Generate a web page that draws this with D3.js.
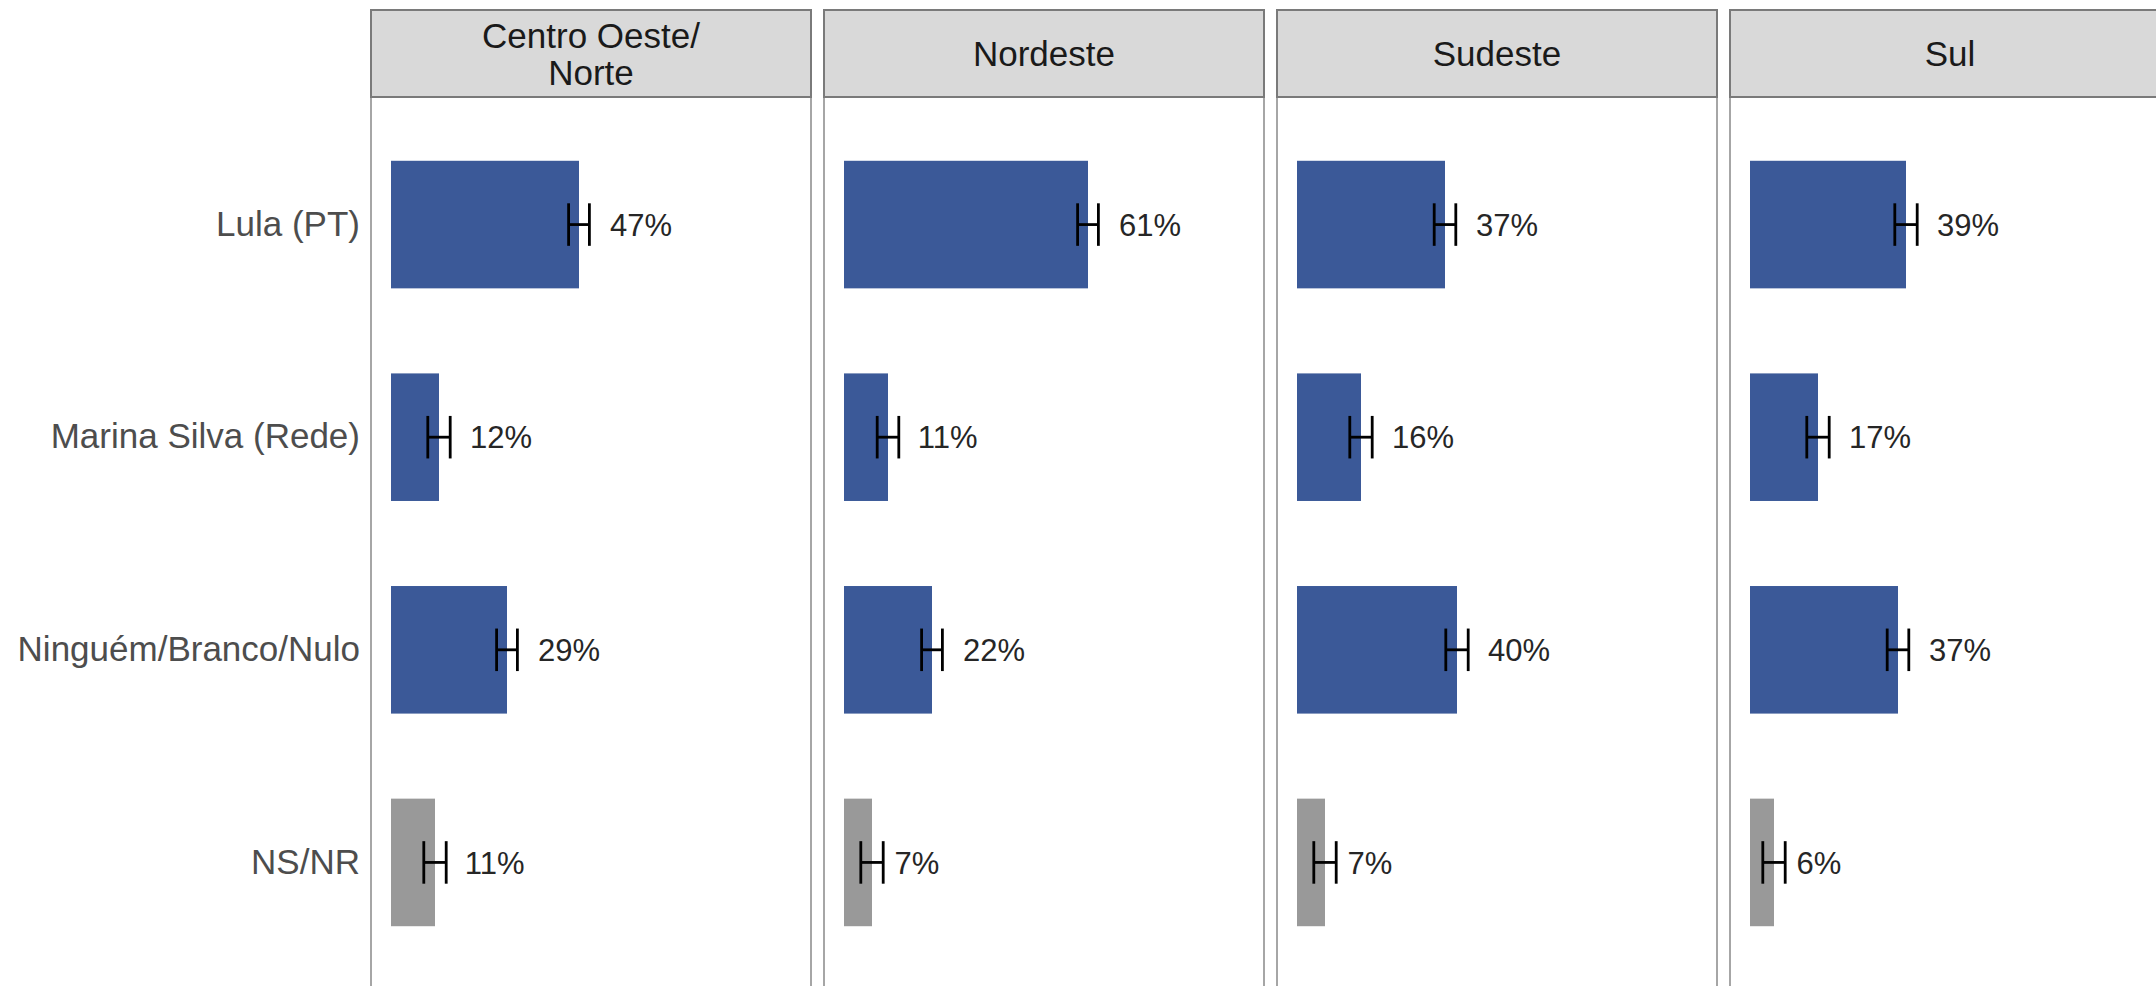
<!DOCTYPE html>
<html>
<head>
<meta charset="utf-8">
<script src="https://cdn.jsdelivr.net/npm/d3@7"></script>
<style>
  html, body { margin: 0; padding: 0; background: #ffffff; }
  svg { display: block; }
</style>
</head>
<body>
<svg id="chart" width="2156" height="986"></svg>
<script>
// ---- data ----
const regions = ["Centro Oeste/\nNorte", "Nordeste", "Sudeste", "Sul"];
const categories = ["Lula (PT)", "Marina Silva (Rede)", "Ninguém/Branco/Nulo", "NS/NR"];
const valuesCentroOesteNorte = [47, 12, 29, 11];
const valuesNordeste = [61, 11, 22, 7];
const valuesSudeste = [37, 16, 40, 7];
const valuesSul = [39, 17, 37, 6];
const marginCentroOesteNorte = [2.6, 2.8, 2.6, 2.8];
const marginNordeste = [2.6, 2.7, 2.6, 2.8];
const marginSudeste = [2.7, 2.8, 2.8, 2.8];
const marginSul = [2.8, 2.8, 2.7, 2.8];
const neutralCategory = "NS/NR";

const seriesValues = [valuesCentroOesteNorte, valuesNordeste, valuesSudeste, valuesSul];
const seriesMargins = [marginCentroOesteNorte, marginNordeste, marginSudeste, marginSul];

// ---- layout ----
const svg = d3.select("#chart");
const FONT = "'Liberation Sans', Arial, sans-serif";
const stripTop = 10, stripBottom = 97, panelBottom = 990;

const facetX = d3.scaleBand()
  .domain(regions)
  .range([371, 2170])
  .paddingInner(0.0287)
  .paddingOuter(0);
const pw = facetX.bandwidth();

const x = d3.scaleLinear().domain([-5, 105]).range([0, pw]);
const y = d3.scaleBand()
  .domain(categories)
  .range([stripBottom, panelBottom])
  .paddingInner(0.4)
  .paddingOuter(0.3);
const step = y.step();

const colorMain = "#3b5998", colorNeutral = "#999999";

// y axis labels (no ticks / no domain line)
const yAxis = d3.axisLeft(y).tickSize(0).tickPadding(11);
const yg = svg.append("g").attr("transform", `translate(${facetX(regions[0])},0)`).call(yAxis);
yg.select(".domain").remove();
yg.selectAll("text")
  .attr("font-family", FONT)
  .attr("font-size", 35)
  .attr("fill", "#4d4d4d");

regions.forEach((region, ri) => {
  const px = facetX(region);
  const g = svg.append("g").attr("transform", `translate(${px},0)`);
  const rows = categories.map((c, i) => ({
    cat: c, value: seriesValues[ri][i], moe: seriesMargins[ri][i]
  }));

  // panel background + border
  g.append("rect")
    .attr("x", 0).attr("y", stripBottom)
    .attr("width", pw).attr("height", panelBottom - stripBottom)
    .attr("fill", "#ffffff")
    .attr("stroke", "#a6a6a6").attr("stroke-width", 2);

  // bars
  g.selectAll("rect.bar").data(rows).join("rect")
    .attr("class", "bar")
    .attr("x", x(0))
    .attr("y", d => y(d.cat))
    .attr("width", d => x(d.value) - x(0))
    .attr("height", y.bandwidth())
    .attr("fill", d => d.cat === neutralCategory ? colorNeutral : colorMain);

  // error bars
  const eh = step * 0.1;
  const eb = g.selectAll("g.err").data(rows).join("g").attr("class", "err")
    .attr("stroke", "#000").attr("stroke-width", 2.8).attr("fill", "none");
  eb.append("line")
    .attr("x1", d => x(d.value - d.moe)).attr("x2", d => x(d.value + d.moe))
    .attr("y1", d => y(d.cat) + y.bandwidth() / 2).attr("y2", d => y(d.cat) + y.bandwidth() / 2);
  eb.append("line")
    .attr("x1", d => x(d.value - d.moe)).attr("x2", d => x(d.value - d.moe))
    .attr("y1", d => y(d.cat) + y.bandwidth() / 2 - eh).attr("y2", d => y(d.cat) + y.bandwidth() / 2 + eh);
  eb.append("line")
    .attr("x1", d => x(d.value + d.moe)).attr("x2", d => x(d.value + d.moe))
    .attr("y1", d => y(d.cat) + y.bandwidth() / 2 - eh).attr("y2", d => y(d.cat) + y.bandwidth() / 2 + eh);

  // value labels (hjust = -0.5 relative to text width)
  g.selectAll("text.val").data(rows).join("text")
    .attr("class", "val")
    .attr("font-family", FONT)
    .attr("font-size", 31)
    .attr("fill", "#262626")
    .attr("y", d => y(d.cat) + y.bandwidth() / 2)
    .attr("dy", "0.36em")
    .text(d => d.value + "%")
    .attr("x", function(d) { return x(d.value) + 0.5 * this.getComputedTextLength(); });

  // strip
  g.append("rect")
    .attr("x", 0).attr("y", stripTop)
    .attr("width", pw).attr("height", stripBottom - stripTop)
    .attr("fill", "#d9d9d9")
    .attr("stroke", "#7a7a7a").attr("stroke-width", 2);
  const lines = region.split("\n");
  const lh = 37;
  const cy = (stripTop + stripBottom) / 2;
  const st = g.append("text")
    .attr("font-family", FONT)
    .attr("font-size", 35)
    .attr("fill", "#1a1a1a")
    .attr("text-anchor", "middle");
  lines.forEach((ln, li) => {
    st.append("tspan")
      .attr("x", pw / 2)
      .attr("y", cy + (li - (lines.length - 1) / 2) * lh + 12.5)
      .text(ln);
  });
});
</script>
</body>
</html>
